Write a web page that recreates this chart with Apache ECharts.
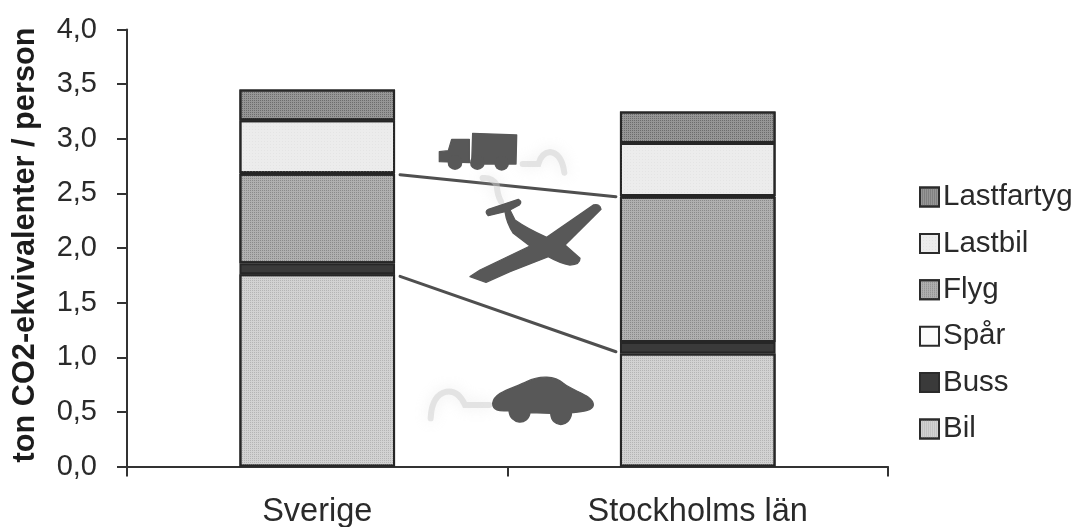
<!DOCTYPE html>
<html><head><meta charset="utf-8">
<style>html,body{margin:0;padding:0;background:#fff}#c{width:1075px;height:527px;filter:blur(0.45px)}</style>
<script src="https://cdn.jsdelivr.net/npm/echarts@6/dist/echarts.min.js"></script>
</head><body><div id="c"></div>
<script>
const categories = ['Sverige', 'Stockholms län'];
const yTicks = {min: 0, max: 4, interval: 0.5};
const bil = [1.76, 1.035];
const buss = [0.10, 0.105];
const flyg = [0.82, 1.33];
const spar = [0.005, 0.005];
const lastbil = [0.485, 0.485];
const lastfartyg = [0.28, 0.29];
const legendOrder = ['Lastfartyg', 'Lastbil', 'Flyg', 'Spår', 'Buss', 'Bil'];
const connectorLines = [[0, 2.68, 1, 2.47], [0, 1.75, 1, 1.05]];

const FONT = '"Liberation Sans", Arial, sans-serif';
const INK = '#2a2a2a';
const dots = (color, size, gap) => ({symbol: 'rect', symbolSize: 1, color,
  dashArrayX: [[size, gap]], dashArrayY: [size, gap], rotation: 0, maxTileWidth: 64, maxTileHeight: 64});
const mk = (name, data, fill, decal) => ({
  name, type: 'bar', stack: 'total', data, barWidth: '40.9%',
  itemStyle: {color: fill, borderColor: '#262626', borderWidth: 2, decal},
  emphasis: {disabled: true}
});
const solid = (d) => ({type: 'path', shape: {pathData: d}, style: {fill: '#585858', stroke: '#585858', lineWidth: 4, lineJoin: 'round'}});
const smoke = (d) => ({type: 'path', shape: {pathData: d}, style: {fill: null, stroke: 'rgba(205,205,205,0.5)', lineWidth: 18, lineCap: 'round', shadowBlur: 14, shadowColor: 'rgba(215,215,215,0.9)'}});
const wheel = (cx, cy) => ({type: 'circle', shape: {cx, cy, r: 22}, style: {fill: '#585858'}});

const chart = echarts.init(document.getElementById('c'), null, {renderer: 'canvas'});
chart.setOption({
  animation: false,
  backgroundColor: '#fff',
  textStyle: {fontFamily: FONT},
  grid: {left: 127, right: 187, top: 29.5, bottom: 60.5, containLabel: false, outerBoundsMode: 'none'},
  legend: {
    data: legendOrder, orient: 'vertical', left: 914, top: 177, icon: 'rect',
    itemWidth: 19, itemHeight: 19, itemGap: 16.4, selectedMode: false,
    textStyle: {fontFamily: FONT, fontSize: 29.5, lineHeight: 19, color: INK, padding: [0, 0, 0, -1]},
    itemStyle: {borderColor: '#2b2b2b', borderWidth: 2}
  },
  xAxis: {
    type: 'category', data: categories, boundaryGap: true,
    axisLine: {show: true, onZero: false, lineStyle: {color: '#333', width: 2}},
    axisTick: {show: true, alignWithLabel: false, length: 10, lineStyle: {color: '#333', width: 2}},
    axisLabel: {fontSize: 32.5, color: INK, margin: 29, fontFamily: FONT}
  },
  yAxis: {
    type: 'value', min: yTicks.min, max: yTicks.max, interval: yTicks.interval,
    name: 'ton CO2-ekvivalenter / person', nameLocation: 'middle', nameGap: 86,
    nameTextStyle: {fontSize: 30.7, fontWeight: 'bold', color: '#1c1c1c', fontFamily: FONT, padding: [0, 0, 0, 6]},
    axisLine: {show: true, lineStyle: {color: '#333', width: 2}},
    axisTick: {show: true, length: 10, lineStyle: {color: '#333', width: 2}},
    axisLabel: {fontSize: 29, color: INK, margin: 30, fontFamily: FONT, formatter: v => v.toFixed(1).replace('.', ',')},
    splitLine: {show: false}
  },
  series: [
    mk('Bil', bil, '#d2d2d2', dots('#b4b4b4', 1, 1)),
    mk('Buss', buss, '#3a3a3a', null),
    mk('Flyg', flyg, '#b0b0b0', dots('#8a8a8a', 1, 1)),
    mk('Spår', spar, '#fbfbfb', null),
    mk('Lastbil', lastbil, '#ececec', dots('#e4e4e4', 1, 2)),
    mk('Lastfartyg', lastfartyg, '#969696', dots('#6c6c6c', 1, 1)),
    {
      type: 'custom', name: 'connector', data: connectorLines, silent: true, z: 10,
      encode: {x: [0, 2], y: [1, 3]},
      renderItem(params, api) {
        const a = api.coord([api.value(0), api.value(1)]);
        const b = api.coord([api.value(2), api.value(3)]);
        const half = api.size([1, 0])[0] * 0.2045;
        return {type: 'line',
          shape: {x1: a[0] + half + 5, y1: a[1] + 1, x2: b[0] - half - 4, y2: b[1]},
          style: {stroke: '#4f4f4f', lineWidth: 3, lineCap: 'round'}};
      }
    },
    {
      type: 'custom', name: 'icons', data: [[0, 0]], silent: true, z: 20,
      renderItem() {
        return {type: 'group', x: 400, y: 120, scaleX: 1 / 3, scaleY: 1 / 3, children: [
          smoke('M368 132 L415 132 Q425 98 450 96 Q485 100 493 158'),
          solid('M118 95 L145 92 L155 58 L208 58 L208 128 L118 125 Z'),
          solid('M218 40 L350 45 L348 132 L215 132 Z'),
          wheel(165, 128), wheel(232, 128), wheel(305, 130),
          smoke('M248 174 Q278 172 290 195 Q292 225 303 245'),
          solid('M210 470 L240 450 L390 378 L340 340 Q320 310 315 275 L265 287 Q252 275 265 268 L355 238 Q368 245 358 255 L330 270 L345 300 Q380 325 440 352 L580 255 Q600 250 603 268 L495 375 L540 415 Q540 435 510 435 Q480 430 445 410 L330 455 L258 487 Z'),
          smoke('M268 855 L195 855 Q175 810 140 815 Q95 825 92 895'),
          solid('M278 850 C282 815 340 805 380 785 C420 765 465 768 490 790 C520 815 580 825 580 855 C578 875 540 875 515 878 C510 925 455 925 452 880 L390 878 C385 918 330 915 327 872 C295 875 278 870 278 850 Z')
        ]};
      }
    }
  ]
});
</script></body></html>
